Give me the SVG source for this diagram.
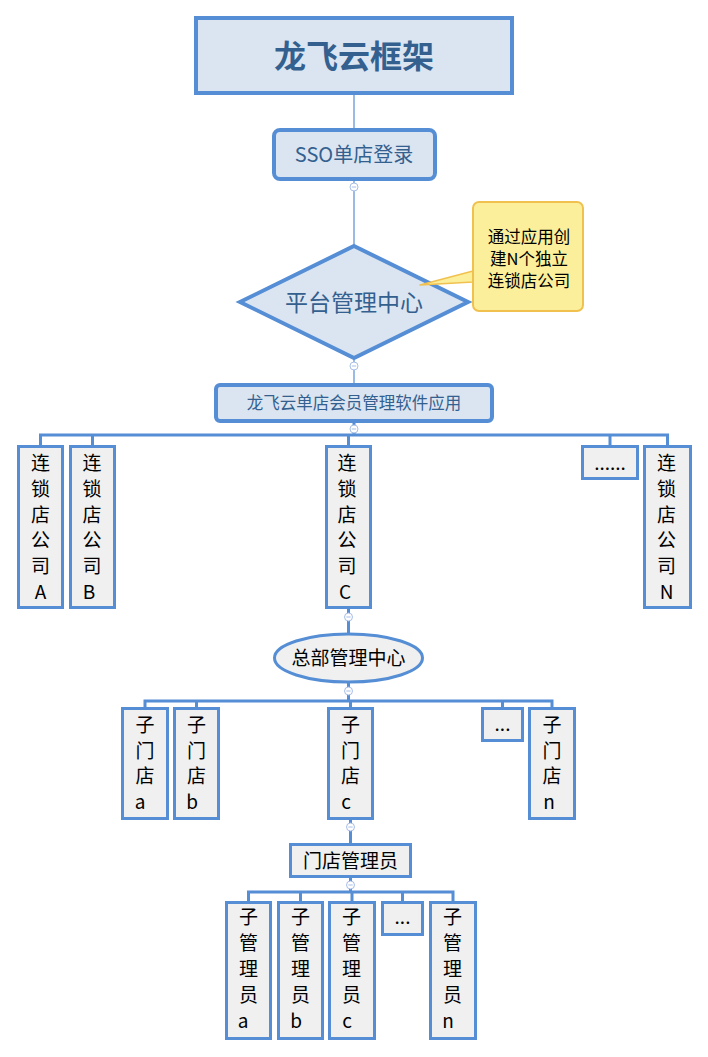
<svg xmlns="http://www.w3.org/2000/svg" width="708" height="1057" viewBox="0 0 708 1057">
<style>
text{font-family:"Microsoft YaHei","Noto Sans CJK SC","Noto Sans",sans-serif;text-anchor:middle}
.top{fill:#dbe5f1;stroke:#558ed5;stroke-width:4}
.box{fill:#f0f0f0;stroke:#558ed5;stroke-width:3}
.tb{fill:#34608f}
.t{fill:#000;font-size:19px}
.thin{stroke:#558ed5;stroke-width:1.2;fill:none}
.thick{stroke:#558ed5;stroke-width:3;fill:none}
.col{fill:#fff;stroke:#a9bfe6;stroke-width:1}
.colm{stroke:#a9bfe6;stroke-width:1}
</style>
<defs>
<g id="c"><circle class="col" r="4"/><line class="colm" x1="-2.2" y1="0" x2="2.2" y2="0"/></g>
</defs>
<g id="connectors">
<line class="thin" x1="354" y1="95" x2="354" y2="128"/>
<line class="thin" x1="354" y1="181" x2="354" y2="245"/>
<line class="thin" x1="354" y1="360" x2="354" y2="383"/>
<line class="thick" x1="354" y1="423" x2="354" y2="435"/>
<polyline class="thick" points="40.5,445 40.5,435 667.5,435 667.5,445"/>
<line class="thick" x1="92.5" y1="435" x2="92.5" y2="445"/>
<line class="thick" x1="348.5" y1="435" x2="348.5" y2="445"/>
<line class="thick" x1="610" y1="435" x2="610" y2="445"/>
<line class="thick" x1="348.5" y1="609" x2="348.5" y2="633"/>
<line class="thick" x1="348.5" y1="683" x2="348.5" y2="701"/>
<polyline class="thick" points="145,707 145,701 552,701 552,707"/>
<line class="thick" x1="196.5" y1="701" x2="196.5" y2="707"/>
<line class="thick" x1="350.5" y1="701" x2="350.5" y2="707"/>
<line class="thick" x1="502.5" y1="701" x2="502.5" y2="707"/>
<line class="thick" x1="350.5" y1="820" x2="350.5" y2="843"/>
<line class="thick" x1="350.5" y1="878" x2="350.5" y2="892"/>
<polyline class="thick" points="248.5,901 248.5,892 453,892 453,901"/>
<line class="thick" x1="300.5" y1="892" x2="300.5" y2="901"/>
<line class="thick" x1="352" y1="892" x2="352" y2="901"/>
<line class="thick" x1="402.5" y1="892" x2="402.5" y2="901"/>
<use href="#c" x="354" y="187"/>
<use href="#c" x="354" y="366"/>
<use href="#c" x="354" y="429"/>
<use href="#c" x="348.5" y="617"/>
<use href="#c" x="348.5" y="691"/>
<use href="#c" x="350.5" y="827"/>
<use href="#c" x="350.5" y="885"/>
</g>
<g id="title">
<rect class="top" x="196" y="18" width="316" height="75"/>
<text class="tb" x="354" y="68" font-size="32" font-weight="bold">龙飞云框架</text>
</g>
<g id="sso">
<rect class="top" x="274" y="130" width="161" height="49" rx="6"/>
<text class="tb" x="354" y="162" font-size="20">SSO单店登录</text>
</g>
<g id="platform">
<polygon class="top" points="354,246 468,302 354,358 240,302"/>
<text class="tb" x="354" y="311" font-size="23">平台管理中心</text>
</g>
<g id="callout">
<path d="M473,271 L420,285 L473,282 Z" fill="#fbef9b" stroke="#f1c14f" stroke-width="1.5" stroke-linejoin="round"/>
<rect x="473" y="202" width="110" height="109" rx="6" fill="#fbef9b" stroke="#f1c14f" stroke-width="2"/>
<text x="529" y="243" font-size="16.5" fill="#000">通过应用创</text>
<text x="529" y="265" font-size="16.5" fill="#000">建N个独立</text>
<text x="529" y="287" font-size="16.5" fill="#000">连锁店公司</text>
</g>
<g id="app">
<rect class="top" x="216" y="385" width="276" height="36" rx="4"/>
<text class="tb" x="354" y="409" font-size="16.5">龙飞云单店会员管理软件应用</text>
</g>
<g id="coA"><rect class="box" x="18.5" y="446.5" width="44" height="161"/>
<text class="t" x="40.5" y="470"><tspan x="40.5">连</tspan><tspan x="40.5" dy="25.8">锁</tspan><tspan x="40.5" dy="25.8">店</tspan><tspan x="40.5" dy="25.8">公</tspan><tspan x="40.5" dy="25.8">司</tspan><tspan x="40.5" dy="25.8">A</tspan></text></g>
<g id="coB"><rect class="box" x="70.5" y="446.5" width="44" height="161"/>
<text class="t" x="90" y="470"><tspan x="92">连</tspan><tspan x="92" dy="25.8">锁</tspan><tspan x="92" dy="25.8">店</tspan><tspan x="92" dy="25.8">公</tspan><tspan x="92" dy="25.8">司</tspan><tspan x="89" dy="25.8">B</tspan></text></g>
<g id="coC"><rect class="box" x="326.5" y="446.5" width="44" height="161"/>
<text class="t" x="347" y="470"><tspan x="347">连</tspan><tspan x="347" dy="25.8">锁</tspan><tspan x="347" dy="25.8">店</tspan><tspan x="347" dy="25.8">公</tspan><tspan x="347" dy="25.8">司</tspan><tspan x="345" dy="25.8">C</tspan></text></g>
<g id="coDots"><rect class="box" x="582.5" y="446.5" width="55" height="32"/>
<text class="t" x="610" y="470">......</text></g>
<g id="coN"><rect class="box" x="644.5" y="446.5" width="46" height="161"/>
<text class="t" x="666.5" y="470"><tspan x="666.5">连</tspan><tspan x="666.5" dy="25.8">锁</tspan><tspan x="666.5" dy="25.8">店</tspan><tspan x="666.5" dy="25.8">公</tspan><tspan x="666.5" dy="25.8">司</tspan><tspan x="666.5" dy="25.8">N</tspan></text></g>
<g id="hq"><ellipse cx="348.5" cy="658" rx="74" ry="24" fill="#f0f0f0" stroke="#558ed5" stroke-width="3"/>
<text class="t" x="348.5" y="665">总部管理中心</text></g>
<g id="sa"><rect class="box" x="122.5" y="708.5" width="45" height="110"/>
<text class="t" x="145" y="732"><tspan x="145">子</tspan><tspan x="145" dy="25.5">门</tspan><tspan x="145" dy="25.5">店</tspan><tspan x="140" dy="25.5">a</tspan></text></g>
<g id="sb"><rect class="box" x="174.5" y="708.5" width="44" height="110"/>
<text class="t" x="196.5" y="732"><tspan x="196.5">子</tspan><tspan x="196.5" dy="25.5">门</tspan><tspan x="196.5" dy="25.5">店</tspan><tspan x="192" dy="25.5">b</tspan></text></g>
<g id="sc"><rect class="box" x="328.5" y="708.5" width="44" height="110"/>
<text class="t" x="350.5" y="732"><tspan x="350.5">子</tspan><tspan x="350.5" dy="25.5">门</tspan><tspan x="350.5" dy="25.5">店</tspan><tspan x="346" dy="25.5">c</tspan></text></g>
<g id="sDots"><rect class="box" x="482.5" y="708.5" width="40" height="32"/>
<text class="t" x="502.5" y="731">...</text></g>
<g id="sn"><rect class="box" x="529.5" y="708.5" width="45" height="110"/>
<text class="t" x="552" y="732"><tspan x="552">子</tspan><tspan x="552" dy="25.5">门</tspan><tspan x="552" dy="25.5">店</tspan><tspan x="549" dy="25.5">n</tspan></text></g>
<g id="mgr"><rect class="box" x="290.5" y="844.5" width="120" height="32"/>
<text class="t" x="350.5" y="868">门店管理员</text></g>
<g id="ma"><rect class="box" x="226.5" y="902.5" width="44" height="136"/>
<text class="t" x="248.5" y="924"><tspan x="248.5">子</tspan><tspan x="248.5" dy="26">管</tspan><tspan x="248.5" dy="26">理</tspan><tspan x="248.5" dy="26">员</tspan><tspan x="243" dy="26">a</tspan></text></g>
<g id="mb"><rect class="box" x="278.5" y="902.5" width="44" height="136"/>
<text class="t" x="300.5" y="924"><tspan x="300.5">子</tspan><tspan x="300.5" dy="26">管</tspan><tspan x="300.5" dy="26">理</tspan><tspan x="300.5" dy="26">员</tspan><tspan x="296" dy="26">b</tspan></text></g>
<g id="mc"><rect class="box" x="329.5" y="902.5" width="45" height="136"/>
<text class="t" x="351.5" y="924"><tspan x="351.5">子</tspan><tspan x="351.5" dy="26">管</tspan><tspan x="351.5" dy="26">理</tspan><tspan x="351.5" dy="26">员</tspan><tspan x="347" dy="26">c</tspan></text></g>
<g id="mDots"><rect class="box" x="382.5" y="902.5" width="40" height="32"/>
<text class="t" x="402.5" y="924">...</text></g>
<g id="mn"><rect class="box" x="430.5" y="902.5" width="45" height="136"/>
<text class="t" x="452.5" y="924"><tspan x="452.5">子</tspan><tspan x="452.5" dy="26">管</tspan><tspan x="452.5" dy="26">理</tspan><tspan x="452.5" dy="26">员</tspan><tspan x="448" dy="26">n</tspan></text></g>
</svg>
